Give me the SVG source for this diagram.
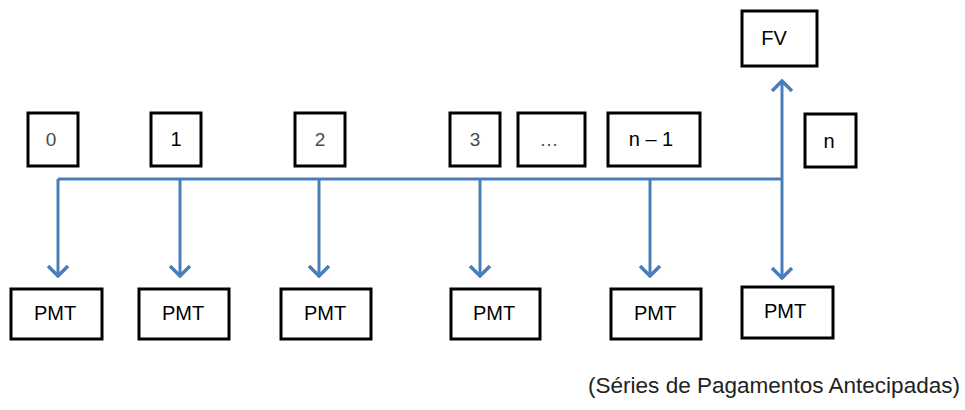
<svg xmlns="http://www.w3.org/2000/svg" width="965" height="410" viewBox="0 0 965 410">
<style>
.box{fill:#fff;stroke:#000;stroke-width:3}
.t{font-family:"Liberation Sans",Arial,sans-serif;font-size:20px;fill:#000;text-anchor:middle;dominant-baseline:central}
.lt{fill:#4a4a4a;font-size:19px}
.ln{fill:none;stroke:#4A7EBB;stroke-width:3}
.cap{font-family:"Liberation Sans",Arial,sans-serif;font-size:22px;fill:#222}
</style>
<defs>
<marker id="ah" viewBox="0 0 14 24" refX="12" refY="12" markerWidth="14" markerHeight="24" markerUnits="userSpaceOnUse" orient="auto">
<polyline points="2,2 12,12 2,22" fill="none" stroke="#4A7EBB" stroke-width="3.5"/>
</marker>
</defs>
<rect width="965" height="410" fill="#fff"/>
<g id="connectors">
<path class="ln" d="M58 179 H782"/>
<path class="ln" d="M58 179 V276" marker-end="url(#ah)"/>
<path class="ln" d="M180 179 V276" marker-end="url(#ah)"/>
<path class="ln" d="M319 179 V276" marker-end="url(#ah)"/>
<path class="ln" d="M480 179 V276" marker-end="url(#ah)"/>
<path class="ln" d="M650 179 V276" marker-end="url(#ah)"/>
<path class="ln" d="M782 179 V278" marker-end="url(#ah)"/>
<path class="ln" d="M782 179 V81" marker-end="url(#ah)"/>
</g>
<g id="t0"><rect class="box" x="28" y="113" width="50" height="53" stroke-width="2.5"/><text class="t lt" x="51" y="139">0</text></g>
<g id="t1"><rect class="box" x="151" y="113" width="50" height="53"/><text class="t" x="176" y="139">1</text></g>
<g id="t2"><rect class="box" x="295" y="113" width="50" height="53" stroke-width="2.5"/><text class="t lt" x="320" y="139">2</text></g>
<g id="t3"><rect class="box" x="450" y="113" width="50" height="53" stroke-width="2.5"/><text class="t lt" x="475" y="139">3</text></g>
<g id="tdots"><rect class="box" x="518" y="113" width="67" height="53" stroke-width="2.5"/><text class="t lt" x="549" y="139">…</text></g>
<g id="tn1"><rect class="box" x="608" y="113" width="92" height="53"/><text class="t" x="651" y="139">n – 1</text></g>
<g id="tn"><rect class="box" x="805" y="114" width="51" height="53"/><text class="t" x="829" y="141">n</text></g>
<g id="fv"><rect class="box" x="742" y="11" width="75" height="55"/><text class="t" x="774" y="38">FV</text></g>
<g id="p0"><rect class="box" x="11" y="289" width="91" height="50"/><text class="t" x="55" y="313">PMT</text></g>
<g id="p1"><rect class="box" x="139" y="289" width="90" height="50"/><text class="t" x="183" y="313">PMT</text></g>
<g id="p2"><rect class="box" x="281" y="289" width="90" height="50"/><text class="t" x="325" y="313">PMT</text></g>
<g id="p3"><rect class="box" x="451" y="289" width="89" height="50"/><text class="t" x="494" y="313">PMT</text></g>
<g id="p4"><rect class="box" x="611" y="289" width="90" height="50"/><text class="t" x="655" y="313">PMT</text></g>
<g id="p5"><rect class="box" x="742" y="287" width="91" height="51"/><text class="t" x="785" y="311">PMT</text></g>
<text class="cap" x="588" y="393" textLength="372" lengthAdjust="spacingAndGlyphs">(Séries de Pagamentos Antecipadas)</text>
</svg>
